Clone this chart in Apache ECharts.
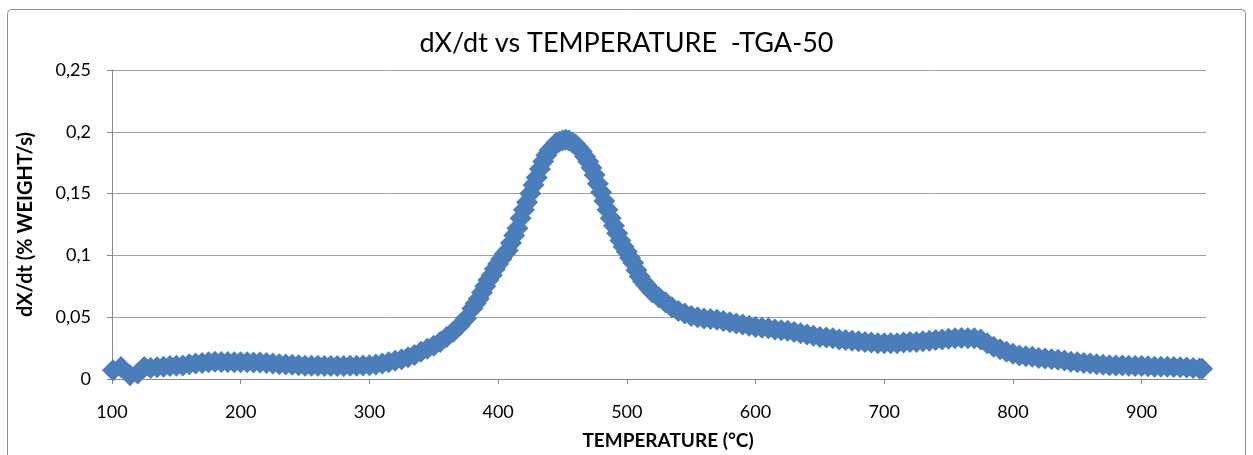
<!DOCTYPE html>
<html>
<head>
<meta charset="utf-8">
<script src="https://cdn.jsdelivr.net/npm/echarts@6/dist/echarts.min.js"></script>
<style>html,body{margin:0;padding:0;background:#fff;}#c{width:1253px;height:455px;}</style>
</head>
<body>
<div id="c"></div>
<script>
const titleText = 'dX/dt vs TEMPERATURE  -TGA-50';
const xAxisTitle = 'TEMPERATURE (°C)';
const yAxisTitle = 'dX/dt (% WEIGHT/s)';
const xTicks = [100, 200, 300, 400, 500, 600, 700, 800, 900];
const yTicks = [0, 0.05, 0.1, 0.15, 0.2, 0.25];

const temperature = [
  100.8, 107, 114, 120, 125, 130, 135, 140, 145, 150, 155, 160, 165, 170, 175, 180, 185, 190, 195, 200,
  205, 210, 215, 220, 225, 230, 235, 240, 245, 250, 255, 260, 265, 270, 275, 280, 285, 290, 295, 300,
  305, 310, 315, 320, 325, 330, 335, 340, 345, 350, 355, 360, 365, 370, 375, 380,
  382.5, 385, 387.5, 390, 392.5, 395, 397.5, 400, 402.5, 405, 407.5, 410, 412.5, 415, 417.5, 420,
  422.5, 425, 427.5, 430, 432.5, 435, 437.5, 440, 442.5, 445, 447.5, 450, 452.5, 455, 457.5, 460,
  462.5, 465, 467.5, 470, 472.5, 475, 477.5, 480, 482.5, 485, 487.5, 490, 492.5, 495, 497.5, 500,
  502.5, 505, 507.5, 510, 512.5, 515, 517.5, 520, 525, 530, 535, 540, 545, 550, 555, 560, 565, 570,
  575, 580, 585, 590, 595, 600, 605, 610, 615, 620, 625, 630, 635, 640, 645, 650, 655, 660, 665, 670,
  675, 680, 685, 690, 695, 700, 705, 710, 715, 720, 725, 730, 735, 740, 745, 750, 755, 760, 765, 770,
  775, 780, 785, 790, 795, 800, 805, 810, 815, 820, 825, 830, 835, 840, 845, 850, 855, 860, 865, 870,
  875, 880, 885, 890, 895, 900, 905, 910, 915, 920, 925, 930, 935, 940, 945, 947
];
const dxdt = [
  0.007, 0.0097, 0.003, 0.0044, 0.0097, 0.009, 0.0095, 0.010, 0.0105, 0.0107, 0.011, 0.012, 0.0125, 0.013, 0.0135, 0.014, 0.0138, 0.0138, 0.0136, 0.0135,
  0.0135, 0.0133, 0.0134, 0.013, 0.0125, 0.012, 0.0118, 0.0115, 0.0112, 0.0108, 0.0108, 0.0107, 0.0106, 0.0105, 0.0105, 0.0105, 0.0107, 0.0108, 0.011, 0.0112,
  0.0118, 0.0125, 0.0135, 0.0148, 0.016, 0.0175, 0.0195, 0.022, 0.0245, 0.027, 0.030, 0.034, 0.038, 0.043, 0.049, 0.057,
  0.061, 0.065, 0.070, 0.075, 0.080, 0.084, 0.089, 0.093, 0.097, 0.101, 0.104, 0.110, 0.116, 0.122, 0.130, 0.137,
  0.143, 0.150, 0.157, 0.163, 0.170, 0.176, 0.181, 0.185, 0.188, 0.191, 0.192, 0.193, 0.1935, 0.193, 0.1915, 0.190,
  0.187, 0.184, 0.180, 0.176, 0.171, 0.165, 0.158, 0.151, 0.144, 0.137, 0.130, 0.124, 0.118, 0.112, 0.107, 0.103,
  0.098, 0.094, 0.088, 0.083, 0.079, 0.076, 0.073, 0.070, 0.066, 0.062, 0.058, 0.055, 0.053, 0.051, 0.050, 0.049, 0.0485, 0.048,
  0.047, 0.046, 0.045, 0.044, 0.043, 0.042, 0.0415, 0.041, 0.040, 0.0395, 0.039, 0.038, 0.037, 0.036, 0.035, 0.034, 0.0335, 0.033, 0.032, 0.0315,
  0.031, 0.0305, 0.030, 0.0295, 0.029, 0.029, 0.029, 0.029, 0.0295, 0.030, 0.030, 0.0305, 0.031, 0.0315, 0.032, 0.0325, 0.033, 0.0332, 0.033, 0.033,
  0.032, 0.029, 0.026, 0.024, 0.022, 0.0205, 0.019, 0.0185, 0.018, 0.017, 0.0165, 0.016, 0.0155, 0.015, 0.014, 0.0135, 0.013, 0.0125, 0.012, 0.0115,
  0.0112, 0.011, 0.011, 0.0107, 0.0105, 0.0105, 0.0103, 0.010, 0.010, 0.0099, 0.0097, 0.0095, 0.0093, 0.009, 0.0085, 0.0082
];

const points = temperature.map((t, i) => [t, dxdt[i]]);
const FONT = 'Lato, "Open Sans", sans-serif';
const chart = echarts.init(document.getElementById('c'), null, {renderer: 'canvas'});
chart.setOption({
  animation: false,
  backgroundColor: '#ffffff',
  graphic: [{
    type: 'rect', silent: true, z: -1,
    shape: {x: 7.5, y: 9.5, width: 1238, height: 470, r: 4},
    style: {fill: 'none', stroke: '#8c8c8c', lineWidth: 1}
  }],
  title: {
    text: titleText, left: 'center', top: 25,
    textStyle: {fontFamily: FONT, fontSize: 27, fontWeight: 'normal', color: '#000'}
  },
  grid: {left: 112, right: 47, top: 70, bottom: 76, containLabel: false},
  xAxis: {
    type: 'value', min: 100, max: 950, interval: 100,
    name: xAxisTitle, nameLocation: 'middle', nameGap: 52,
    nameTextStyle: {fontFamily: FONT, fontSize: 19, fontWeight: 'bold', color: '#000', padding: [0, 0, 0, 18]},
    axisLine: {show: true, lineStyle: {color: '#888', width: 1}},
    axisTick: {show: true, length: 5, lineStyle: {color: '#888'}, customValues: xTicks},
    axisLabel: {fontFamily: FONT, fontSize: 18, color: '#000', margin: 24, customValues: xTicks},
    splitLine: {show: false}
  },
  yAxis: {
    type: 'value', min: 0, max: 0.25, interval: 0.05,
    name: yAxisTitle, nameLocation: 'middle', nameGap: 76, nameRotate: 90,
    nameTextStyle: {fontFamily: FONT, fontSize: 20, fontWeight: 'bold', color: '#000'},
    axisLine: {show: true, lineStyle: {color: '#888', width: 1}},
    axisTick: {show: true, length: 5, lineStyle: {color: '#888'}, customValues: yTicks},
    axisLabel: {fontFamily: FONT, fontSize: 18, color: '#000', margin: 21, customValues: yTicks,
      formatter: v => String(+v.toFixed(2)).replace('.', ',')},
    splitLine: {show: true, lineStyle: {color: '#a0a0a0', width: 1}}
  },
  series: [{
    type: 'scatter', data: points, symbol: 'diamond', symbolSize: 22,
    itemStyle: {color: '#4a7ebb', opacity: 1, borderWidth: 0},
    emphasis: {disabled: true}, silent: true
  }]
});
</script>
</body>
</html>
